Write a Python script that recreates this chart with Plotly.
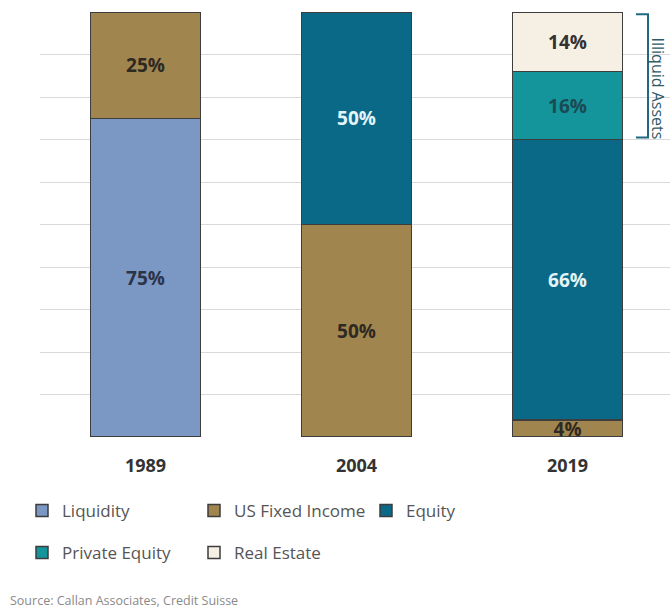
import plotly.graph_objects as go

years = ["1989", "2004", "2019"]
liquidity = [75, None, None]
us_fixed_income = [25, 50, 4]
equity = [None, 50, 66]
private_equity = [None, None, 16]
real_estate = [None, None, 14]

series = [
    ("Liquidity", liquidity, "#7b97c3", "#2b3448", "legend"),
    ("US Fixed Income", us_fixed_income, "#a1854f", "#2e2a22", "legend"),
    ("Equity", equity, "#0b6988", "#e4f4f8", "legend"),
    ("Private Equity", private_equity, "#14959b", "#1b4a52", "legend2"),
    ("Real Estate", real_estate, "#f6f0e4", "#333333", "legend2"),
]

fig = go.Figure()
for name, vals, color, tcolor, lg in series:
    fig.add_trace(go.Bar(
        x=years, y=vals, name=name,
        marker=dict(color=color, line=dict(color="#3d3d3d", width=1.5)),
        text=[f"{v}%" if v else "" for v in vals],
        textposition="inside", insidetextanchor="middle",
        constraintext="none",
        textfont=dict(family="Open Sans", size=19, color=tcolor, weight="bold"),
        width=0.52, legend=lg,
    ))

def px(x):
    return (x - 40) / 630

def py(y):
    return (437 - y) / 425

fig.update_layout(
    width=670, height=612,
    margin=dict(l=40, r=0, t=12, b=175),
    barmode="stack",
    plot_bgcolor="white", paper_bgcolor="white",
    font=dict(family="Open Sans", color="#404040"),
    showlegend=True,
    legend=dict(orientation="h", xref="container", yref="container",
                x=22/670, y=1-493/612, xanchor="left", yanchor="top",
                font=dict(size=17, color="#555555"),
                entrywidth=127, traceorder="normal"),
    legend2=dict(orientation="h", xref="container", yref="container",
                 x=22/670, y=1-535/612, xanchor="left", yanchor="top",
                 font=dict(size=17, color="#555555"),
                 entrywidth=127, traceorder="normal"),
    xaxis=dict(type="category", range=[-0.5, -0.5 + 630/211],
               showgrid=False, showline=False, ticks="",
               ticklabelstandoff=16,
               tickfont=dict(size=18, color="#333333", weight="bold")),
    yaxis=dict(range=[0, 100], dtick=10, showgrid=True, gridcolor="#d9d9d9",
               gridwidth=1, showticklabels=False, zeroline=False),
)

# Illiquid assets bracket
bc = "#1f6884"
fig.add_shape(type="path", xref="paper", yref="y",
              path=f"M {px(636)} 99.5 L {px(648)} 99.5 L {px(648)} 70.5 L {px(636)} 70.5",
              line=dict(color=bc, width=2))
fig.add_annotation(text="Illiquid Assets", xref="paper", yref="y",
                   x=px(671), y=82, textangle=90, showarrow=False,
                   font=dict(size=16, color="#2f5a66"))

fig.add_annotation(text="Source: Callan Associates, Credit Suisse",
                   xref="paper", yref="paper", x=px(8), y=py(600),
                   xanchor="left", yanchor="middle", showarrow=False,
                   font=dict(size=12.5, color="#8a8a8a"))

fig.write_html("out.html")
